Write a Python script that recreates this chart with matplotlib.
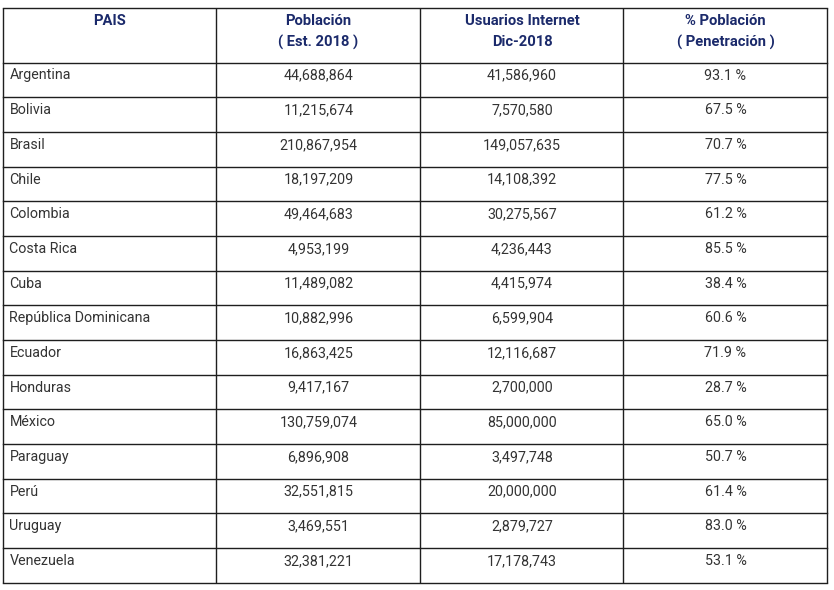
import matplotlib
matplotlib.use("Agg")
from matplotlib import pyplot as plt

headers = ["PAIS", "Población\n( Est. 2018 )", "Usuarios Internet\nDic-2018", "% Población\n( Penetración )"]
paises = ["Argentina", "Bolivia", "Brasil", "Chile", "Colombia", "Costa Rica", "Cuba",
          "República Dominicana", "Ecuador", "Honduras", "México", "Paraguay", "Perú",
          "Uruguay", "Venezuela"]
poblacion = [44688864, 11215674, 210867954, 18197209, 49464683, 4953199, 11489082,
             10882996, 16863425, 9417167, 130759074, 6896908, 32551815, 3469551, 32381221]
usuarios = [41586960, 7570580, 149057635, 14108392, 30275567, 4236443, 4415974,
            6599904, 12116687, 2700000, 85000000, 3497748, 20000000, 2879727, 17178743]
penetracion = [93.1, 67.5, 70.7, 77.5, 61.2, 85.5, 38.4, 60.6, 71.9, 28.7, 65.0, 50.7,
               61.4, 83.0, 53.1]

W, H = 834, 590
fig = plt.figure(figsize=(W/100, H/100), dpi=100)
ax = fig.add_axes([0, 0, 1, 1])
ax.set_xlim(0, W)
ax.set_ylim(H, 0)
ax.axis("off")

# table grid (pixel coords)
left, right, top, bottom = 3.5, 827.5, 7.5, 582.5
col_x = [left, 216.5, 420.5, 623.5, right]
head_bottom = 62.5
n = len(paises)
row_h = (bottom - head_bottom) / n
row_y = [head_bottom + i*row_h for i in range(n+1)]

lc = "#1e1e1e"
for x in col_x:
    ax.plot([x, x], [top, bottom], color=lc, lw=1.0, solid_capstyle="butt")
ax.plot([left, right], [top, top], color=lc, lw=1.0)
for y in row_y:
    ax.plot([left, right], [y, y], color=lc, lw=1.0)

navy = "#1b2a6b"
txt = "#333333"
centers = [(col_x[i] + col_x[i+1]) / 2 for i in range(4)]

for i, h in enumerate(headers):
    ax.text(centers[i], 14, h, ha="center", va="top", color=navy,
            fontsize=10.6, fontweight="bold", family="Roboto", linespacing=1.6)

for i in range(n):
    y = row_y[i] + 13
    cells = [paises[i], "{:,}".format(poblacion[i]), "{:,}".format(usuarios[i]),
             "{:.1f} %".format(penetracion[i])]
    for j, s in enumerate(cells):
        if j == 0:
            ax.text(col_x[0] + 6, y, s, ha="left", va="center", color=txt,
                    fontsize=10.3, family="Roboto")
        else:
            ax.text(centers[j], y, s, ha="center", va="center", color=txt,
                    fontsize=10.3, family="Roboto")

fig.savefig("out.png", dpi=100, facecolor="white")
